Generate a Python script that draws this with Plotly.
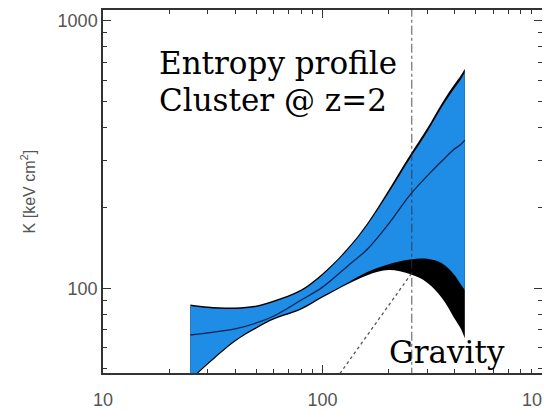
import plotly.graph_objects as go

# ---- data ----
radius = [25, 30, 40, 50, 60, 80, 100, 130, 160, 200, 250, 300, 350, 400, 425, 445]
k_upper = [85.9, 84.4, 83.7, 85.2, 88.9, 97.7, 112, 139, 172, 227, 305, 384, 476, 560, 600, 640]
k_center = [66.9, 68.1, 70.5, 74.2, 78.8, 90.4, 101, 121, 140, 174, 223, 263, 299, 332, 344, 358]
k_lower = [45.8, 52.6, 64.1, 71.7, 77.4, 84.4, 93.5, 105, 115, 123, 128, 129, 124, 112, 104, 98.5]
k_outer_upper = [87.0, 85.5, 84.8, 86.3, 90.0, 99.0, 113.5, 141, 175, 233, 314, 396, 492, 580, 621, 662]
k_outer_lower = [45.2, 51.9, 63.3, 70.8, 76.4, 83.3, 92.3, 103.5, 112, 117, 113, 105, 92, 77, 71, 65]

gravity_r = [120, 255]
gravity_k = [48, 114]

r_vir = [255, 255]
r_vir_k = [40, 1300]

x_ticks = [10, 100, 1000]
x_ticktext = ["10", "100", "1000"]
y_ticks = [100, 1000]
y_ticktext = ["100", "1000"]

fig = go.Figure()

def band(lower, upper, color):
    fig.add_trace(go.Scatter(
        x=radius, y=lower, mode="lines", line=dict(width=0, shape="spline", smoothing=1.0),
        hoverinfo="skip", showlegend=False))
    fig.add_trace(go.Scatter(
        x=radius, y=upper, mode="lines", line=dict(width=0, shape="spline", smoothing=1.0),
        fill="tonexty", fillcolor=color, hoverinfo="skip", showlegend=False))

# black outer envelope, then blue band on top
band(k_outer_lower, k_outer_upper, "#000000")
band(k_lower, k_upper, "#1F8CE6")

# central profile
fig.add_trace(go.Scatter(
    x=radius, y=k_center, mode="lines",
    line=dict(color="#0B2450", width=1.3, shape="spline", smoothing=1.0), showlegend=False))
# gravity-only baseline
fig.add_trace(go.Scatter(
    x=gravity_r, y=gravity_k, mode="lines",
    line=dict(color="#555555", width=1.3, dash="dot"), showlegend=False))
# virial radius
fig.add_trace(go.Scatter(
    x=r_vir, y=r_vir_k, mode="lines",
    line=dict(color="rgba(50,50,50,0.65)", width=1.3, dash="dashdot"), showlegend=False))

axis_common = dict(
    type="log", showgrid=False, zeroline=False, showline=True,
    linecolor="#333333", linewidth=1.5, mirror="allticks",
    ticks="inside", ticklen=8, tickwidth=1, tickcolor="#333333",
    tickfont=dict(family="Liberation Sans, Arial, sans-serif", size=18, color="#555555"),
    minor=dict(ticks="inside", ticklen=4, tickwidth=1, tickcolor="#333333", dtick="D1", showgrid=False),
    automargin=False, ticklabeloverflow="allow",
)

fig.update_xaxes(**axis_common, range=[1, 3], tickvals=x_ticks, ticktext=x_ticktext,
                 ticklabelstandoff=10)
fig.update_yaxes(**axis_common, range=[1.6835, 3.040], tickvals=y_ticks, ticktext=y_ticktext,
                 ticklabelstandoff=0)

serif = "DejaVu Serif, serif"
fig.add_annotation(text="Entropy profile", xref="paper", yref="paper", x=0.123, y=0.854,
                   xanchor="left", yanchor="middle", showarrow=False,
                   font=dict(family=serif, size=31, color="#000000"))
fig.add_annotation(text="Cluster @ z=2", xref="paper", yref="paper", x=0.123, y=0.752,
                   xanchor="left", yanchor="middle", showarrow=False,
                   font=dict(family=serif, size=31, color="#000000"))
fig.add_annotation(text="Gravity", xref="paper", yref="paper", x=0.647, y=0.057,
                   xanchor="left", yanchor="middle", showarrow=False,
                   font=dict(family=serif, size=31, color="#000000"))
fig.add_annotation(text="K [keV cm<sup>2</sup>]", xref="paper", yref="paper", x=-0.171, y=0.5,
                   xanchor="center", yanchor="middle", textangle=-90, showarrow=False,
                   font=dict(family="Liberation Sans, Arial, sans-serif", size=16, color="#555555"))

# the page body has an 8px default margin, so the figure is sized to fit the window
fig.update_layout(
    width=542, height=403,
    margin=dict(l=95, r=8, t=2, b=38),
    paper_bgcolor="white", plot_bgcolor="white",
    showlegend=False,
)

fig.write_html("out.html")
